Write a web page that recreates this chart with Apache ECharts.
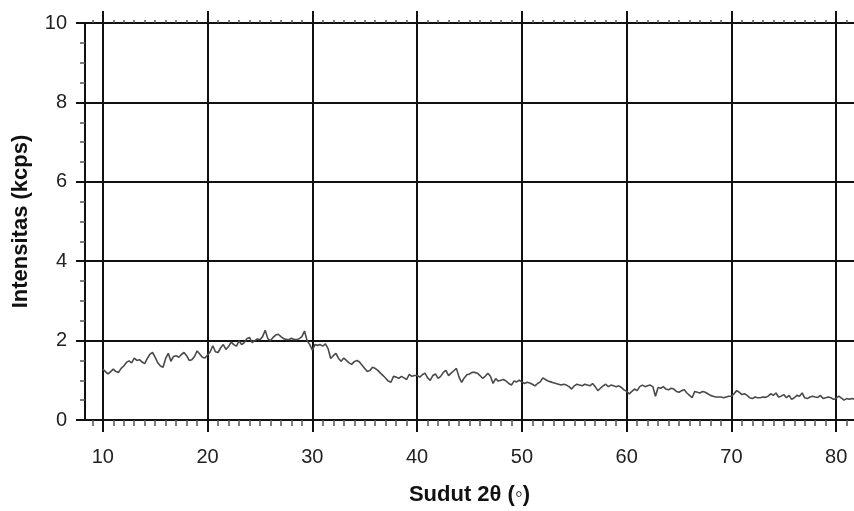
<!DOCTYPE html>
<html>
<head>
<meta charset="utf-8">
<title>Intensitas vs Sudut 2θ</title>
<script src="https://cdn.jsdelivr.net/npm/echarts@6/dist/echarts.min.js"></script>
<style>
  html, body { margin: 0; padding: 0; background: #fff; }
  #chart { width: 854px; height: 511px; }
</style>
</head>
<body>
<div id="chart"></div>
<script>
// Diffraction scan: first angle, angular step, and measured intensity (kcps)
const angleStart = 10;
const angleStep = 0.25;
const intensity = [
  // 10 – 19.75
  1.28, 1.22, 1.16, 1.22, 1.28, 1.22, 1.20, 1.30, 1.36, 1.45, 1.49, 1.44, 1.56, 1.50, 1.52, 1.46, 1.42, 1.55, 1.66, 1.70,
  1.58, 1.44, 1.36, 1.33, 1.55, 1.68, 1.48, 1.60, 1.62, 1.58, 1.65, 1.70, 1.62, 1.50, 1.52, 1.60, 1.74, 1.66, 1.58, 1.56,
  // 20 – 29.75
  1.64, 1.72, 1.87, 1.72, 1.70, 1.82, 1.90, 1.78, 1.85, 1.96, 1.90, 1.86, 1.99, 1.90, 1.95, 2.05, 2.08, 1.95, 2.00, 2.04,
  2.02, 2.10, 2.26, 2.05, 2.00, 2.08, 2.14, 2.16, 2.10, 2.05, 2.03, 2.02, 2.06, 2.03, 2.02, 2.05, 2.10, 2.24, 2.00, 1.90,
  // 30 – 39.75
  1.76, 1.90, 1.88, 1.90, 1.86, 1.92, 1.80, 1.55, 1.62, 1.68, 1.55, 1.48, 1.56, 1.50, 1.44, 1.40, 1.47, 1.50, 1.46, 1.38,
  1.30, 1.22, 1.25, 1.33, 1.30, 1.25, 1.18, 1.12, 1.05, 0.98, 0.95, 1.10, 1.08, 1.05, 1.10, 1.06, 1.02, 1.15, 1.10, 1.12,
  // 40 – 49.75
  1.12, 1.08, 1.14, 1.18, 1.06, 1.00, 1.12, 1.16, 1.05, 1.10, 1.20, 1.25, 1.12, 1.18, 1.24, 1.30, 1.08, 0.95, 1.06, 1.14,
  1.16, 1.20, 1.20, 1.18, 1.12, 1.05, 1.10, 1.18, 1.10, 0.92, 1.04, 0.98, 1.00, 1.02, 0.98, 0.92, 0.88, 0.98, 0.96, 1.00,
  // 50 – 59.75
  0.96, 0.92, 0.95, 0.93, 0.90, 0.86, 0.92, 0.96, 1.06, 1.02, 0.98, 0.96, 0.94, 0.92, 0.90, 0.88, 0.90, 0.88, 0.84, 0.78,
  0.86, 0.90, 0.88, 0.86, 0.90, 0.88, 0.86, 0.92, 0.84, 0.74, 0.80, 0.86, 0.90, 0.84, 0.88, 0.86, 0.84, 0.86, 0.82, 0.76,
  // 60 – 69.75
  0.72, 0.66, 0.72, 0.78, 0.74, 0.84, 0.88, 0.84, 0.86, 0.88, 0.84, 0.60, 0.82, 0.80, 0.84, 0.78, 0.76, 0.80, 0.78, 0.72,
  0.70, 0.74, 0.76, 0.68, 0.62, 0.56, 0.72, 0.70, 0.68, 0.72, 0.70, 0.66, 0.62, 0.60, 0.58, 0.58, 0.58, 0.56, 0.58, 0.60,
  // 70 – 81.75
  0.60, 0.66, 0.74, 0.70, 0.64, 0.66, 0.62, 0.56, 0.54, 0.58, 0.56, 0.56, 0.58, 0.57, 0.60, 0.66, 0.62, 0.68, 0.58, 0.60,
  0.64, 0.56, 0.62, 0.52, 0.56, 0.62, 0.60, 0.68, 0.56, 0.54, 0.58, 0.60, 0.58, 0.57, 0.62, 0.54, 0.56, 0.58, 0.56, 0.52,
  0.55, 0.60, 0.55, 0.50, 0.54, 0.52, 0.54, 0.52
];

// Axis ticks
const angleTicks = [10, 20, 30, 40, 50, 60, 70, 80];
const angleMinorTicks = [9, 11, 12, 13, 14, 15, 16, 17, 18, 19, 21, 22, 23, 24, 25, 26, 27, 28, 29,
  31, 32, 33, 34, 35, 36, 37, 38, 39, 41, 42, 43, 44, 45, 46, 47, 48, 49,
  51, 52, 53, 54, 55, 56, 57, 58, 59, 61, 62, 63, 64, 65, 66, 67, 68, 69,
  71, 72, 73, 74, 75, 76, 77, 78, 79, 81];
const angleMin = 8.3;
const angleMax = 81.7;

const points = intensity.map((v, i) => [angleStart + i * angleStep, v]);

const font = '"Liberation Sans", Arial, sans-serif';
const ink = '#111';

function angleAxis(extra) {
  return Object.assign({
    type: 'value',
    min: angleMin,
    max: angleMax,
    axisLine: { show: false },
    axisTick: { show: false },
    axisLabel: { show: false },
    splitLine: { show: false }
  }, extra);
}

const chart = echarts.init(document.getElementById('chart'), null, { renderer: 'canvas' });
chart.setOption({
  backgroundColor: '#fff',
  animation: false,
  grid: { left: 85, right: 0, top: 23, bottom: 90, containLabel: false },
  xAxis: [
    angleAxis({
      position: 'bottom',
      name: 'Sudut 2θ (◦)',
      nameLocation: 'middle',
      nameGap: 64,
      nameTextStyle: { fontFamily: font, fontWeight: 'bold', fontSize: 22, color: ink },
      axisLine: { show: true, onZero: false, lineStyle: { color: ink, width: 2 } },
      axisTick: { show: true, customValues: angleTicks, length: 12, inside: false, lineStyle: { color: ink, width: 2 } },
      axisLabel: { show: true, customValues: angleTicks, margin: 27, fontFamily: font, fontSize: 20, color: '#222' },
      splitLine: { show: true, lineStyle: { color: ink, width: 2 } }
    }),
    angleAxis({
      position: 'bottom',
      axisTick: { show: true, customValues: angleMinorTicks, length: 6, lineStyle: { color: '#555', width: 1.5 } }
    }),
    angleAxis({
      position: 'top',
      axisTick: { show: true, customValues: angleTicks, length: 12, lineStyle: { color: ink, width: 2 } }
    }),
    angleAxis({
      position: 'top',
      axisTick: { show: true, customValues: angleMinorTicks, length: 3, lineStyle: { color: '#555', width: 1.5 } }
    })
  ],
  yAxis: {
    type: 'value',
    min: 0,
    max: 10,
    interval: 2,
    name: 'Intensitas (kcps)',
    nameLocation: 'middle',
    nameGap: 53,
    nameTextStyle: { fontFamily: font, fontWeight: 'bold', fontSize: 22, color: ink },
    axisLine: { show: true, lineStyle: { color: ink, width: 2 } },
    axisTick: { show: true, length: 9, lineStyle: { color: ink, width: 2 } },
    minorTick: { show: true, splitNumber: 4, length: 5, lineStyle: { color: '#555', width: 1.5 } },
    axisLabel: { margin: 18, fontFamily: font, fontSize: 20, color: '#222' },
    splitLine: { show: true, lineStyle: { color: ink, width: 2 } }
  },
  series: [{
    type: 'line',
    xAxisIndex: 0,
    data: points,
    showSymbol: false,
    clip: true,
    lineStyle: { color: '#4a4a4a', width: 1.6 }
  }]
});
</script>
</body>
</html>
